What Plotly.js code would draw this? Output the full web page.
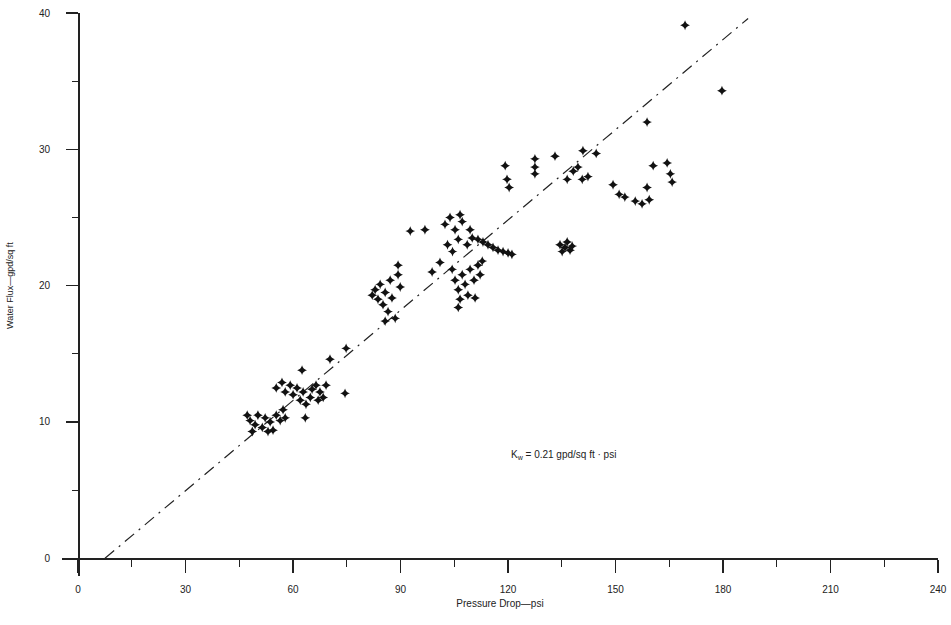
<!DOCTYPE html>
<html>
<head>
<meta charset="utf-8">
<script src="https://cdn.plot.ly/plotly-3.0.1.min.js"></script>
<style>html,body{margin:0;padding:0;background:#fff;}#chart{width:951px;height:625px;}</style>
</head>
<body>
<div id="chart"></div>
<script>
// Measured water flux (gpd/sq ft) vs pressure drop (psi)
const pressureDrop = [
  47.2,48.0,49.4,50.2,51.4,52.2,53.6,54.4,55.3,56.4,57.2,57.8,48.6,53.0,
  55.3,56.9,57.8,59.2,60.0,61.1,62.0,62.8,63.6,63.4,65.3,66.4,67.5,68.4,69.2,67.0,64.8,62.5,74.5,70.3,74.8,
  82.1,82.9,83.7,84.3,85.1,85.7,86.5,87.1,87.6,88.5,89.3,89.9,85.7,89.3,92.7,96.8,98.8,101.0,
  102.4,103.8,105.2,106.1,103.1,107.2,104.5,106.6,
  108.6,110.0,111.6,113.0,114.4,115.8,117.2,118.6,120.0,121.1,109.4,
  104.4,105.2,106.1,107.2,108.0,108.8,109.4,110.5,111.6,110.8,112.2,106.6,106.1,112.8,
  119.2,119.7,120.3,127.5,127.5,127.5,133.1,136.5,138.2,139.5,140.7,142.3,140.9,144.6,149.3,
  134.5,135.9,137.3,135.1,136.5,137.9,
  158.8,160.5,164.4,165.3,165.8,151.0,152.6,155.5,157.4,158.8,159.4,169.4,179.7
];
const waterFlux = [
  10.5,10.1,9.8,10.5,9.6,10.3,10.0,9.4,10.5,10.1,10.9,10.3,9.3,9.3,
  12.5,12.9,12.2,12.7,12.0,12.5,11.6,12.2,11.3,10.3,12.4,12.7,12.2,11.8,12.7,11.6,11.8,13.8,12.1,14.6,15.4,
  19.3,19.7,19.0,20.1,18.6,19.5,18.1,20.4,19.1,17.6,20.8,19.9,17.4,21.5,24.0,24.1,21.0,21.7,
  24.5,25.0,24.1,23.4,23.0,24.7,22.5,25.2,
  23.0,23.5,23.4,23.2,23.0,22.8,22.6,22.5,22.4,22.3,24.1,
  21.2,20.4,19.7,20.8,20.1,19.3,21.2,20.4,21.5,19.1,20.8,19.0,18.4,21.8,
  28.8,27.8,27.2,29.3,28.7,28.2,29.5,27.8,28.4,28.7,27.8,28.0,29.9,29.7,27.4,
  23.0,22.8,22.6,22.5,23.2,22.9,
  32.0,28.8,29.0,28.2,27.6,26.7,26.5,26.2,26.0,27.2,26.3,39.1,34.3
];
// Fitted line, Kw = 0.21 gpd/sq ft-psi
const fitX = [7.5, 187];
const fitY = [0, 39.6];
// Axis ticks
const xTicks = [0,30,60,90,120,150,180,210,240];
const yTicks = [0,10,20,30,40];

const xRange = [-4.5, 240];
const yRange = [-1.3, 40];
const fontFam = 'Liberation Sans, Arial, sans-serif';
const tickFont = {family: fontFam, size: 10, color: '#222'};

const traces = [
  {
    x: fitX, y: fitY, type: 'scatter', mode: 'lines',
    line: {color: '#222', width: 1.2, dash: '12px,6px,2px,6px'},
    hoverinfo: 'skip', showlegend: false
  },
  {
    x: pressureDrop, y: waterFlux, type: 'scatter', mode: 'markers',
    marker: {symbol: 'star-diamond', size: 7, color: '#111', line: {width: 0}},
    showlegend: false
  }
];

const layout = {
  width: 951, height: 625,
  margin: {l: 62, r: 13, t: 13, b: 49},
  paper_bgcolor: '#fff', plot_bgcolor: '#fff',
  showlegend: false,
  xaxis: {
    range: xRange, anchor: 'free', position: (0 - yRange[0]) / (yRange[1] - yRange[0]),
    tickmode: 'array', tickvals: xTicks, ticktext: xTicks.map(String),
    ticks: 'outside', ticklen: 13, tickwidth: 1.3, tickcolor: '#222',
    minor: {dtick: 15, ticks: 'outside', ticklen: 7, tickwidth: 1.2, tickcolor: '#222', showgrid: false},
    showline: true, linecolor: '#222', linewidth: 1.5,
    showgrid: false, zeroline: false,
    tickfont: tickFont, ticklabelstandoff: 8,
    title: {text: 'Pressure Drop—psi', font: {family: fontFam, size: 10, color: '#222'}, standoff: 6}
  },
  yaxis: {
    range: yRange, anchor: 'free', position: (0 - xRange[0]) / (xRange[1] - xRange[0]),
    tickmode: 'array', tickvals: yTicks, ticktext: yTicks.map(String),
    ticks: 'outside', ticklen: 12, tickwidth: 1.3, tickcolor: '#222',
    minor: {dtick: 5, ticks: 'outside', ticklen: 6, tickwidth: 1.2, tickcolor: '#222', showgrid: false},
    showline: true, linecolor: '#222', linewidth: 1.5,
    showgrid: false, zeroline: false,
    tickfont: tickFont, ticklabelstandoff: 14
  },
  annotations: [
    {
      x: 135.4, y: 7.6, xref: 'x', yref: 'y', showarrow: false,
      text: 'K<sub>w</sub> = 0.21 gpd/sq ft · psi',
      font: {family: fontFam, size: 10, color: '#222'}
    },
    {
      x: -0.0594, y: 0.517, xref: 'paper', yref: 'paper', showarrow: false,
      textangle: -90, xanchor: 'center', yanchor: 'middle',
      text: 'Water Flux—gpd/sq ft',
      font: {family: fontFam, size: 9, color: '#222'}
    }
  ]
};

Plotly.newPlot('chart', traces, layout, {displayModeBar: false, staticPlot: true});
</script>
</body>
</html>
